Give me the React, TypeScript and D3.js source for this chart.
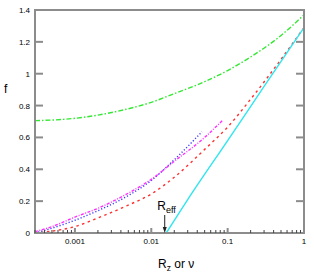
import React from "react";
import * as d3 from "d3";

const yTicks = [0, 0.2, 0.4, 0.6, 0.8, 1, 1.2, 1.4];
const yTickLabels = ["0", "0.2", "0.4", "0.6", "0.8", "1", "1.2", "1.4"];
const xMajor = [0.001, 0.01, 0.1, 1];
const xMajorLabels = ["0.001", "0.01", "0.1", "1"];

const greenV = [0.0003, 0.001, 0.002, 0.005, 0.01, 0.02, 0.05, 0.1, 0.2, 0.5, 1];
const greenF = [0.705, 0.72, 0.74, 0.78, 0.82, 0.875, 0.95, 1.02, 1.105, 1.24, 1.37];

const redV = [0.0003, 0.0005, 0.001, 0.002, 0.005, 0.01, 0.02, 0.05, 0.1, 0.2, 0.5, 1];
const redF = [0, 0.012, 0.04, 0.095, 0.175, 0.245, 0.35, 0.525, 0.665, 0.84, 1.09, 1.29];

const blueV = [0.0003, 0.0005, 0.001, 0.002, 0.005, 0.01, 0.02, 0.046];
const blueF = [0, 0.03, 0.08, 0.14, 0.235, 0.33, 0.46, 0.635];

const magentaV = [0.0003, 0.0005, 0.001, 0.002, 0.005, 0.01, 0.02, 0.05, 0.087];
const magentaF = [0.008, 0.04, 0.1, 0.155, 0.25, 0.337, 0.45, 0.6, 0.71];

const cyanV = [0.0157, 0.03, 0.1, 0.3, 1];
const cyanF = [0, 0.21, 0.58, 0.92, 1.29];

const reffV = 0.015;

const W = 314;
const H = 275;
const L = 35, R = 304, T = 10, B = 233;

export default function App() {
  const x = d3.scaleLog().domain([3e-4, 1]).range([L, R]);
  const y = d3.scaleLinear().domain([0, 1.4]).range([B, T]);
  const line = d3
    .line<[number, number]>()
    .x((d) => x(d[0]))
    .y((d) => y(d[1]))
    .curve(d3.curveMonotoneX);
  const mk = (v: number[], f: number[]) => line(v.map((vv, i) => [vv, f[i]]) as [number, number][]) || "";

  const minor: number[] = [];
  for (let e = -4; e <= 0; e++) {
    for (let k = 2; k <= 9; k++) {
      const v = k * Math.pow(10, e);
      if (v >= 3e-4 && v < 1) minor.push(v);
    }
  }
  const axisColor = "#8c8c8c";
  const font = "'Liberation Sans', Arial, sans-serif";
  const ax = x(reffV);

  return (
    <svg width={W} height={H} style={{ position: "absolute", left: 0, top: 0, background: "#fff" }} fontFamily={font}>
      {/* curves */}
      <path d={mk(greenV, greenF)} fill="none" stroke="#33e833" strokeWidth={1.4} strokeDasharray="5,2,1.5,2" />
      <path d={mk(redV, redF)} fill="none" stroke="#ff3030" strokeWidth={1.4} strokeDasharray="2.5,3.5" />
      <path d={mk(blueV, blueF)} fill="none" stroke="#3a3aff" strokeWidth={1.4} strokeDasharray="1.2,2" />
      <path d={mk(magentaV, magentaF)} fill="none" stroke="#ff30ff" strokeWidth={1.4} strokeDasharray="3,1.5,1,1.5" />
      <path d={mk(cyanV, cyanF)} fill="none" stroke="#2ee6ee" strokeWidth={1.4} />

      {/* frame */}
      <line x1={L} x2={R} y1={T} y2={T} stroke={axisColor} strokeWidth={2} />
      <line x1={L} x2={L} y1={T - 1} y2={B + 1} stroke={axisColor} strokeWidth={2} />
      <line x1={R} x2={R} y1={T - 1} y2={B + 1} stroke={axisColor} strokeWidth={2} />
      <line x1={L - 1} x2={R + 1} y1={B} y2={B} stroke={axisColor} strokeWidth={2} />

      {/* y ticks */}
      {yTicks.map((t, i) => (
        <g key={"y" + i}>
          <line x1={L} x2={L + 8} y1={y(t)} y2={y(t)} stroke={axisColor} strokeWidth={2} />
          <line x1={R - 8} x2={R} y1={y(t)} y2={y(t)} stroke={axisColor} strokeWidth={2} />
          <text x={30} y={y(t) + 3} fontSize={8} textAnchor="end" fill="#000">
            {yTickLabels[i]}
          </text>
        </g>
      ))}

      {/* x ticks */}
      {minor.map((v, i) => (
        <line key={"m" + i} x1={x(v)} x2={x(v)} y1={B} y2={B - 3} stroke="#444" strokeWidth={1} />
      ))}
      {xMajor.map((v, i) => (
        <g key={"x" + i}>
          <line x1={x(v)} x2={x(v)} y1={B} y2={B - 5} stroke={axisColor} strokeWidth={2} />
          <text x={x(v)} y={244} fontSize={8} textAnchor="middle" fill="#000">
            {xMajorLabels[i]}
          </text>
        </g>
      ))}

      {/* axis titles */}
      <text x={4} y={93} fontSize={12} fill="#000">f</text>
      <text x={158} y={268} fontSize={12} fill="#000">
        R<tspan fontSize={8.5} dy={3}>z</tspan>
        <tspan dy={-3}> or ν</tspan>
      </text>

      {/* R_eff annotation */}
      <text x={ax - 7.5} y={209.5} fontSize={12} fill="#000">
        R<tspan fontSize={9} dy={3}>eff</tspan>
      </text>
      <line x1={ax} x2={ax} y1={215} y2={B - 5} stroke="#222" strokeWidth={1} />
      <path d={`M${ax - 2},${B - 6} L${ax + 2},${B - 6} L${ax},${B} Z`} fill="#222" />
    </svg>
  );
}
